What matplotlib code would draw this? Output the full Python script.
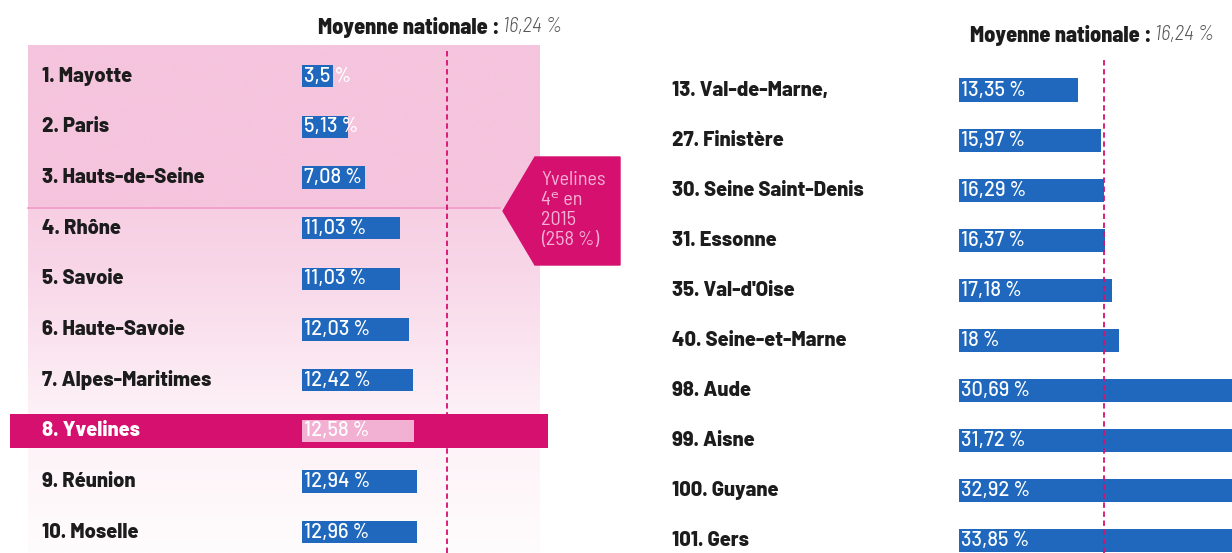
import matplotlib
matplotlib.use("Agg")
import matplotlib.pyplot as plt
import numpy as np
from matplotlib.patches import Polygon
from matplotlib.colors import LinearSegmentedColormap

# ---- data ----
left_names = ["1. Mayotte", "2. Paris", "3. Hauts-de-Seine", "4. Rhône", "5. Savoie",
              "6. Haute-Savoie", "7. Alpes-Maritimes", "8. Yvelines", "9. Réunion", "10. Moselle"]
left_values = [3.5, 5.13, 7.08, 11.03, 11.03, 12.03, 12.42, 12.58, 12.94, 12.96]
left_labels = ["3,5 %", "5,13 %", "7,08 %", "11,03 %", "11,03 %", "12,03 %", "12,42 %",
               "12,58 %", "12,94 %", "12,96 %"]

right_names = ["13. Val-de-Marne,", "27. Finistère", "30. Seine Saint-Denis", "31. Essonne",
               "35. Val-d'Oise", "40. Seine-et-Marne", "98. Aude", "99. Aisne",
               "100. Guyane", "101. Gers"]
right_values = [13.35, 15.97, 16.29, 16.37, 17.18, 18, 30.69, 31.72, 32.92, 33.85]
right_labels = ["13,35 %", "15,97 %", "16,29 %", "16,37 %", "17,18 %", "18 %", "30,69 %",
                "31,72 %", "32,92 %", "33,85 %"]

moyenne = 16.24
highlight = "8. Yvelines"

BLUE = "#1f68bd"
MAGENTA = "#d5106f"
LIGHTPINK = "#f2b0d3"
DARK = "#1c1c1c"
COND = ["Barlow Semi Condensed", "Roboto Condensed", "Archivo Narrow", "DejaVu Sans"]
WIDE = ["Barlow", "Roboto", "DejaVu Sans"]

W, H = 1232, 553
fig = plt.figure(figsize=(W / 100, H / 100), dpi=100)
fig.patch.set_facecolor("white")

PX = 8.9  # pixels per percent


def make_axes(x0, y0, dy):
    # axes covering the whole figure; x in percent, y in row index
    ax = fig.add_axes([0, 0, 1, 1])
    ax.set_xlim(-x0 / PX, (W - x0) / PX)
    ax.set_ylim((H - y0) / dy, -y0 / dy)
    ax.axis("off")
    ax.patch.set_alpha(0)
    return ax


# ---- left panel ----
axl = make_axes(302, 76, 50.7)

def row(px):
    return (px - 76) / 50.7

# pink background: solid on top three rows, fading below
cmap = LinearSegmentedColormap.from_list("pk", ["#f5c4dd", "#f8d6e8", "#fdf0f6", "#fffcfd"])
n_top = int(300 * (208 - 45) / (553 - 45))
bg = np.vstack([np.full((n_top, 1), 0.0),
                np.linspace(0.2, 1, 300 - n_top).reshape(-1, 1)])
axl.imshow(bg, cmap=cmap, vmin=0, vmax=1, aspect="auto", interpolation="bilinear",
           extent=[(28 - 302) / PX, (540 - 302) / PX, row(553), row(45)], zorder=0)
axl.plot([(28 - 302) / PX, (500 - 302) / PX], [row(208), row(208)], color="#f29ac6", lw=1.2, zorder=1)

for i, (n, v, lab) in enumerate(zip(left_names, left_values, left_labels)):
    hi = n == highlight
    if hi:
        axl.barh(i, (548 - 10) / PX, left=(10 - 302) / PX, height=0.68, color=MAGENTA, zorder=2)
    axl.barh(i, v, height=0.44, color=LIGHTPINK if hi else BLUE, zorder=3)
    axl.text(0.2, i, lab, color="white", fontsize=14.5, fontweight=500, va="center",
             ha="left", family=WIDE, zorder=4)
    axl.text(42 / W, i, n, transform=axl.get_yaxis_transform(), fontsize=14.5,
             fontweight=800, color="white" if hi else DARK, va="center", ha="left",
             family=WIDE, zorder=4)

axl.axvline(moyenne, ymin=0, ymax=1 - 50 / H, color=MAGENTA, ls=(0, (3, 2)), lw=1.3, zorder=5)

# callout arrow box
pts = [(503, 211), (535, 157), (620, 157), (620, 265), (535, 265)]
axl.add_patch(Polygon([(px / W, 1 - py / H) for px, py in pts], closed=True,
                      transform=axl.transAxes, color=MAGENTA, zorder=6))
axl.text(541 / W, 1 - 210 / H, "Yvelines\n4ᵉ en\n2015\n(258 %)", transform=axl.transAxes,
         color="#f6b0d5", fontsize=14.5, va="center", ha="left", family=COND,
         linespacing=1.12, zorder=7)

# ---- right panel ----
axr = make_axes(959, 90, 50.1)
for i, (n, v, lab) in enumerate(zip(right_names, right_values, right_labels)):
    axr.barh(i, v, height=0.46, color=BLUE, zorder=3)
    axr.text(0.2, i, lab, color="white", fontsize=14.5, fontweight=500, va="center",
             ha="left", family=WIDE, zorder=4)
    axr.text(672 / W, i, n, transform=axr.get_yaxis_transform(), fontsize=14.5,
             fontweight=800, color=DARK, va="center", ha="left", family=WIDE, zorder=4)
axr.axvline(moyenne, ymin=0, ymax=1 - 58 / H, color=MAGENTA, ls=(0, (3, 2)), lw=1.3, zorder=5)

# ---- "Moyenne nationale" headers ----
fig.canvas.draw()
r = fig.canvas.get_renderer()
for px, py in [(318, 27), (970, 35)]:
    t = fig.text(px / W, 1 - py / H, "Moyenne nationale :", fontsize=16, fontweight=800,
                 color=DARK, va="center", ha="left", family=COND)
    bb = t.get_window_extent(r)
    fig.text((bb.x1 + 3) / W, 1 - py / H, "16,24 %", fontsize=15, fontstyle="italic",
             fontweight=300, color="#555555", va="center", ha="left", family=COND)

fig.savefig("out.png", dpi=100)
